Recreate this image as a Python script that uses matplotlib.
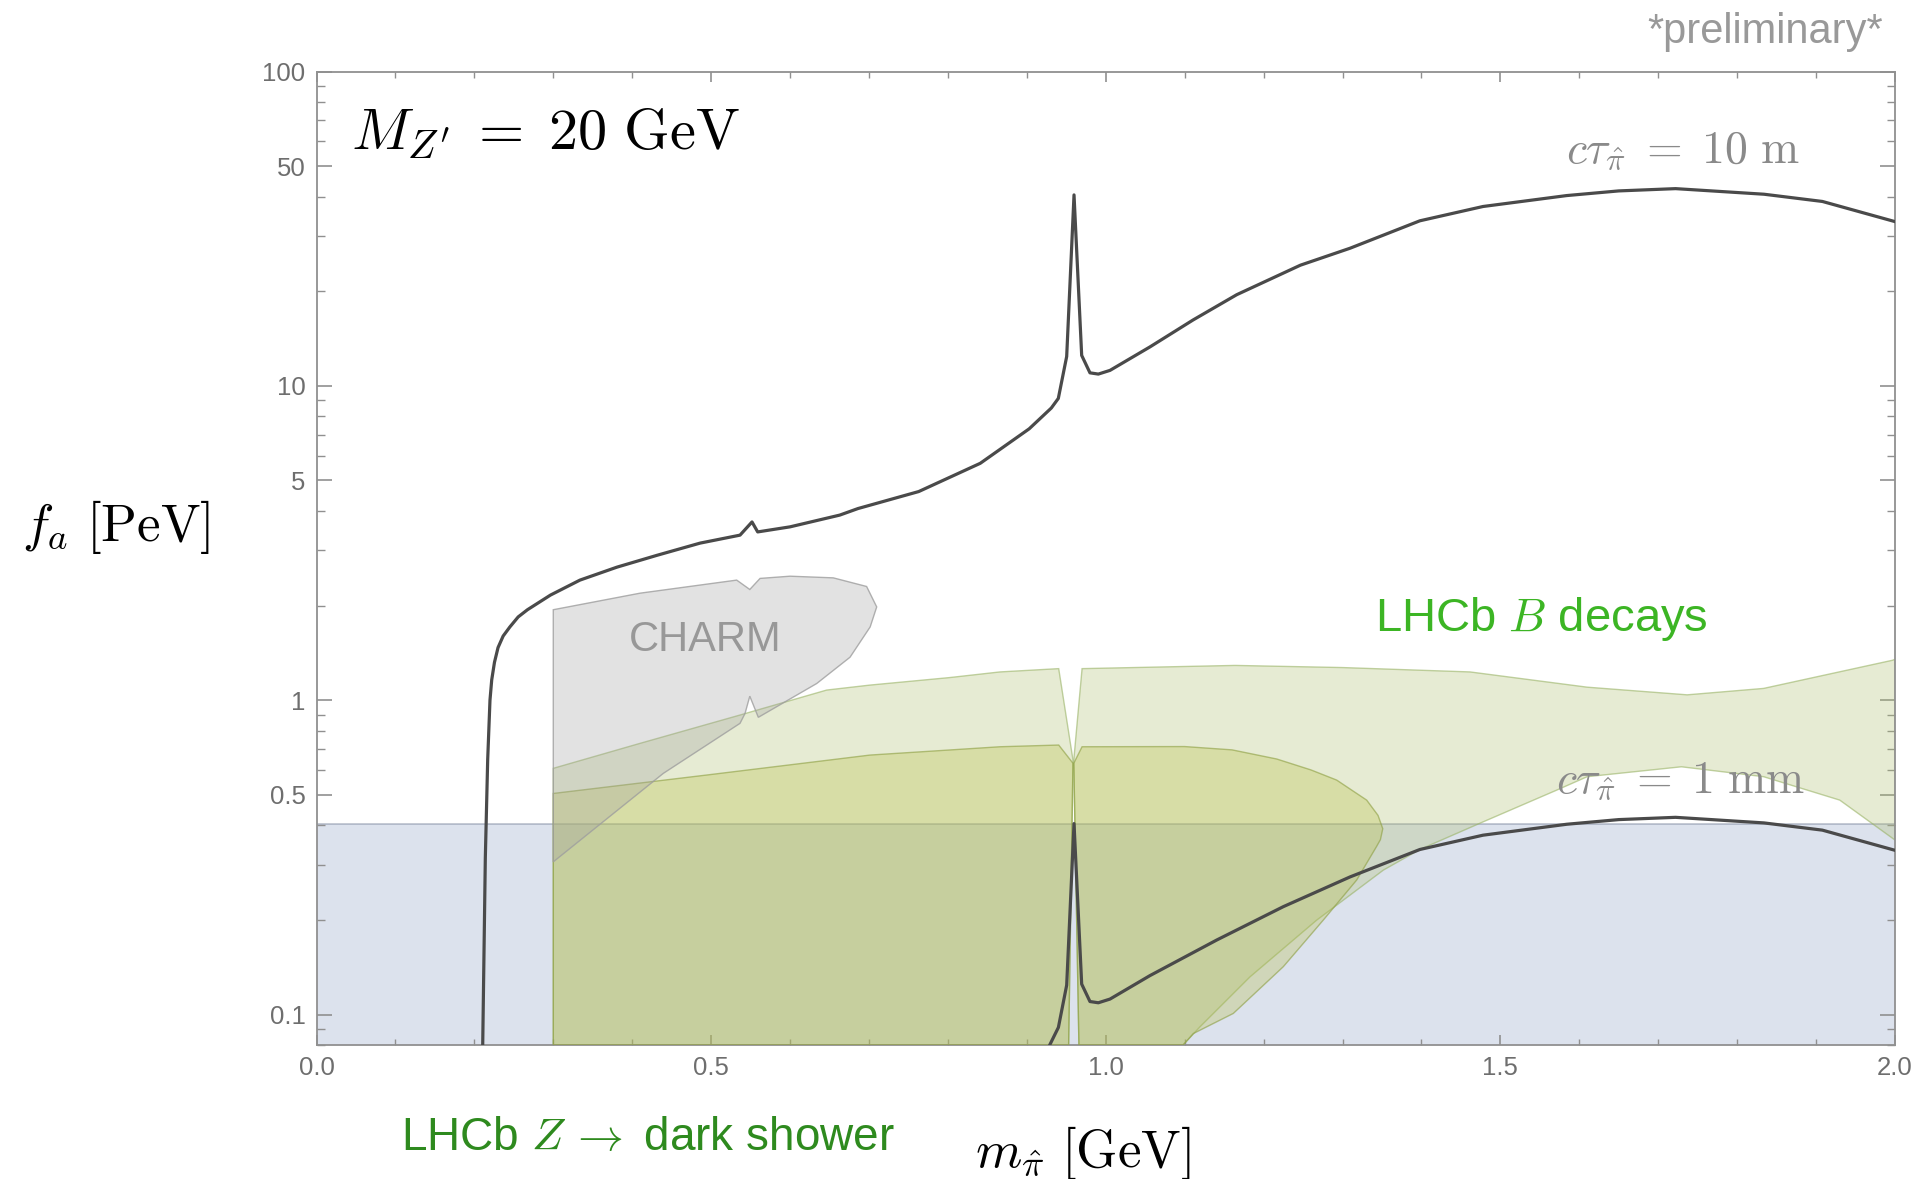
import matplotlib
matplotlib.use("Agg")
import matplotlib.pyplot as plt
from matplotlib.ticker import FixedLocator, NullFormatter, FixedFormatter, MultipleLocator

plt.rcParams['mathtext.fontset'] = 'cm'
plt.rcParams['font.family'] = ['Liberation Sans', 'DejaVu Sans']

# ---------------- data ----------------
# c tau = 10 m contour
ctau10m_x = [0.2106, 0.2139, 0.2169, 0.2198, 0.222, 0.2255, 0.230, 0.2365, 0.245, 0.2555, 0.2673,
             0.2965, 0.3338, 0.3807, 0.4314, 0.486, 0.5366, 0.5518, 0.559, 0.600, 0.663, 0.686,
             0.763, 0.841, 0.903, 0.931, 0.9399, 0.9505, 0.9598, 0.9695, 0.980, 0.9906, 1.0054,
             1.056, 1.1106, 1.166, 1.2466, 1.3095, 1.398, 1.478, 1.584, 1.65, 1.722, 1.834, 1.908, 2.0]
ctau10m_y = [0.08, 0.315, 0.647, 1.0, 1.16, 1.32, 1.47, 1.6, 1.71, 1.84, 1.94,
             2.16, 2.41, 2.65, 2.89, 3.16, 3.35, 3.69, 3.43, 3.56, 3.88, 4.07,
             4.61, 5.67, 7.3, 8.5, 9.12, 12.4, 40.5, 12.5, 11.0, 10.9, 11.2,
             13.3, 16.2, 19.5, 24.2, 27.4, 33.5, 37.2, 40.3, 41.7, 42.4, 40.7, 38.6, 33.3]

# c tau = 1 mm contour
ctau1mm_x = [0.929, 0.940, 0.9505, 0.9598, 0.9695, 0.980, 0.9906, 1.0054, 1.056, 1.1406, 1.225,
             1.3095, 1.398, 1.478, 1.584, 1.65, 1.722, 1.834, 1.908, 2.0]
ctau1mm_y = [0.08, 0.091, 0.124, 0.405, 0.125, 0.110, 0.109, 0.112, 0.133, 0.1726, 0.2204,
             0.274, 0.335, 0.372, 0.403, 0.417, 0.424, 0.407, 0.386, 0.333]

# blue band
band_x = [0.0, 2.0]
band_top = [0.405, 0.405]
y_floor = 0.08

# LHCb B decays (light green), two pieces
bdec_left_x = [0.300, 0.410, 0.5366, 0.6464, 0.7013, 0.802, 0.866, 0.9404, 0.9585, 0.953, 0.300]
bdec_left_y = [0.607, 0.729, 0.897, 1.077, 1.117, 1.18, 1.23, 1.26, 0.645, 0.08, 0.08]
bdec_right_x = [0.9595, 0.970, 1.1638, 1.30, 1.4615, 1.610, 1.7367, 1.8335, 1.997, 2.0,
                2.0, 1.930, 1.8335, 1.7294, 1.610, 1.571, 1.478, 1.398, 1.3517, 1.2673, 1.1828,
                1.1194, 1.098, 0.966]
bdec_right_y = [0.645, 1.26, 1.29, 1.27, 1.23, 1.10, 1.04, 1.09, 1.34, 1.35,
                0.359, 0.481, 0.571, 0.614, 0.571, 0.517, 0.41, 0.335, 0.288, 0.1997, 0.1318,
                0.0914, 0.08, 0.08]

# LHCb Z -> dark shower (darker green), two pieces
zds_left_x = [0.300, 0.4944, 0.7013, 0.866, 0.9404, 0.9585, 0.953, 0.300]
zds_left_y = [0.505, 0.578, 0.669, 0.711, 0.72, 0.63, 0.08, 0.08]
zds_right_x = [0.9595, 0.970, 1.10, 1.16, 1.2166, 1.26, 1.2926, 1.3306, 1.345, 1.351, 1.348,
               1.343, 1.318, 1.2756, 1.225, 1.1616, 1.111, 1.098, 0.966]
zds_right_y = [0.63, 0.711, 0.712, 0.695, 0.650, 0.600, 0.557, 0.481, 0.43, 0.39, 0.36,
               0.342, 0.268, 0.1997, 0.142, 0.1008, 0.087, 0.08, 0.08]

# CHARM
charm_x = [0.300, 0.410, 0.5324, 0.549, 0.562, 0.600, 0.6548, 0.697, 0.7098, 0.7015, 0.676,
           0.6338, 0.5598, 0.549, 0.543, 0.5366, 0.4394, 0.300]
charm_y = [1.94, 2.19, 2.41, 2.25, 2.44, 2.48, 2.45, 2.30, 1.98, 1.71, 1.37,
           1.13, 0.882, 1.03, 0.908, 0.844, 0.585, 0.306]

x_major = [0.0, 0.5, 1.0, 1.5, 2.0]
x_labels = ['0.0', '0.5', '1.0', '1.5', '2.0']
y_major = [0.1, 0.5, 1, 5, 10, 50, 100]
y_labels = ['0.1', '0.5', '1', '5', '10', '50', '100']
y_minor = [0.08, 0.09, 0.2, 0.3, 0.4, 0.6, 0.7, 0.8, 0.9, 2, 3, 4, 6, 7, 8, 9,
           20, 30, 40, 60, 70, 80, 90]

# ---------------- figure ----------------
W, H = 1921, 1179
fig = plt.figure(figsize=(W / 100, H / 100), dpi=100)
ax = fig.add_axes([316.5 / W, 1 - 1045 / H, (1895 - 316.5) / W, (1045 - 71.5) / H])
ax.set_yscale('log')
ax.set_xlim(0, 2)
ax.set_ylim(y_floor, 100)

blue_c = (142 / 255, 162 / 255, 198 / 255)
lg_c = (175 / 255, 192 / 255, 112 / 255)
dg_c = (181 / 255, 189 / 255, 65 / 255)
ch_c = (160 / 255, 160 / 255, 160 / 255)

ax.fill_between(band_x, [y_floor, y_floor], band_top, color=blue_c, alpha=0.3, lw=0, zorder=1)
ax.plot(band_x, band_top, color=(0.5, 0.55, 0.63), alpha=0.5, lw=1.3, zorder=1.1)

for xs, ys in [(bdec_left_x, bdec_left_y), (bdec_right_x, bdec_right_y)]:
    ax.fill(xs, ys, facecolor=lg_c, alpha=0.3, edgecolor='none', zorder=2)
    ax.fill(xs, ys, facecolor='none', edgecolor=(0.6, 0.7, 0.4), alpha=0.6, lw=1.0, zorder=2.1)
for xs, ys in [(zds_left_x, zds_left_y), (zds_right_x, zds_right_y)]:
    ax.fill(xs, ys, facecolor=dg_c, alpha=0.3, edgecolor='none', zorder=3)
    ax.fill(xs, ys, facecolor='none', edgecolor=(0.55, 0.62, 0.25), alpha=0.6, lw=1.0, zorder=3.1)
ax.fill(charm_x, charm_y, facecolor=ch_c, alpha=0.3, edgecolor='none', zorder=4)
ax.fill(charm_x, charm_y, facecolor='none', edgecolor=(0.62, 0.62, 0.62), alpha=0.8, lw=1.0, zorder=4.1)

ax.plot(ctau10m_x, ctau10m_y, color='#4a4a4a', lw=2.3, zorder=5, solid_joinstyle='round')
ax.plot(ctau1mm_x, ctau1mm_y, color='#4a4a4a', lw=2.3, zorder=5, solid_joinstyle='round')

# axes styling
for s in ax.spines.values():
    s.set_color('#909090')
    s.set_linewidth(1.3)
ax.xaxis.set_major_locator(FixedLocator(x_major))
ax.xaxis.set_major_formatter(FixedFormatter(x_labels))
ax.xaxis.set_minor_locator(MultipleLocator(0.1))
ax.yaxis.set_major_locator(FixedLocator(y_major))
ax.yaxis.set_major_formatter(FixedFormatter(y_labels))
ax.yaxis.set_minor_locator(FixedLocator(y_minor))
ax.yaxis.set_minor_formatter(NullFormatter())
ax.tick_params(axis='both', which='both', direction='in', top=True, right=True,
               color='#909090', labelcolor='#6e6e6e', labelsize=18.5, pad=8)
ax.tick_params(axis='y', which='major', length=11, width=1.2)
ax.tick_params(axis='y', which='minor', length=6, width=1.0)
ax.tick_params(axis='x', which='major', length=7, width=1.2)
ax.tick_params(axis='x', which='minor', length=4, width=1.0)


def fx(px):
    return px / W


def fy(py):
    return 1 - py / H


fig.text(fx(351), fy(149), r"$M_{Z'}\;=\;20\ \mathrm{GeV}$", fontsize=42, ha='left', va='baseline', color='black')
fig.text(fx(1800), fy(163), r"$c\tau_{\hat{\pi}}\;=\;10\ \mathrm{m}$", fontsize=33, ha='right', va='baseline', color='#8a8a8a')
fig.text(fx(1805), fy(793), r"$c\tau_{\hat{\pi}}\;=\;1\ \mathrm{mm}$", fontsize=33, ha='right', va='baseline', color='#8a8a8a')
fig.text(fx(705), fy(640), "CHARM", fontsize=30, ha='center', va='center', color='#989898')
fig.text(fx(1375), fy(631), r"LHCb $B$ decays", fontsize=34, ha='left', va='baseline', color='#3cb524')
fig.text(fx(401), fy(1150), r"LHCb $Z\,\rightarrow$ dark shower", fontsize=33, ha='left', va='baseline', color='#2e8a1e')
fig.text(fx(975), fy(1167), r"$m_{\hat{\pi}}\ [\mathrm{GeV}]$", fontsize=38, ha='left', va='baseline', color='black')
fig.text(fx(22), fy(541), r"$f_a\ [\mathrm{PeV}]$", fontsize=38, ha='left', va='baseline', color='black')
fig.text(fx(1883), fy(43), "*preliminary*", fontsize=30, ha='right', va='baseline', color='#999999')

fig.savefig('out.png', dpi=100)
